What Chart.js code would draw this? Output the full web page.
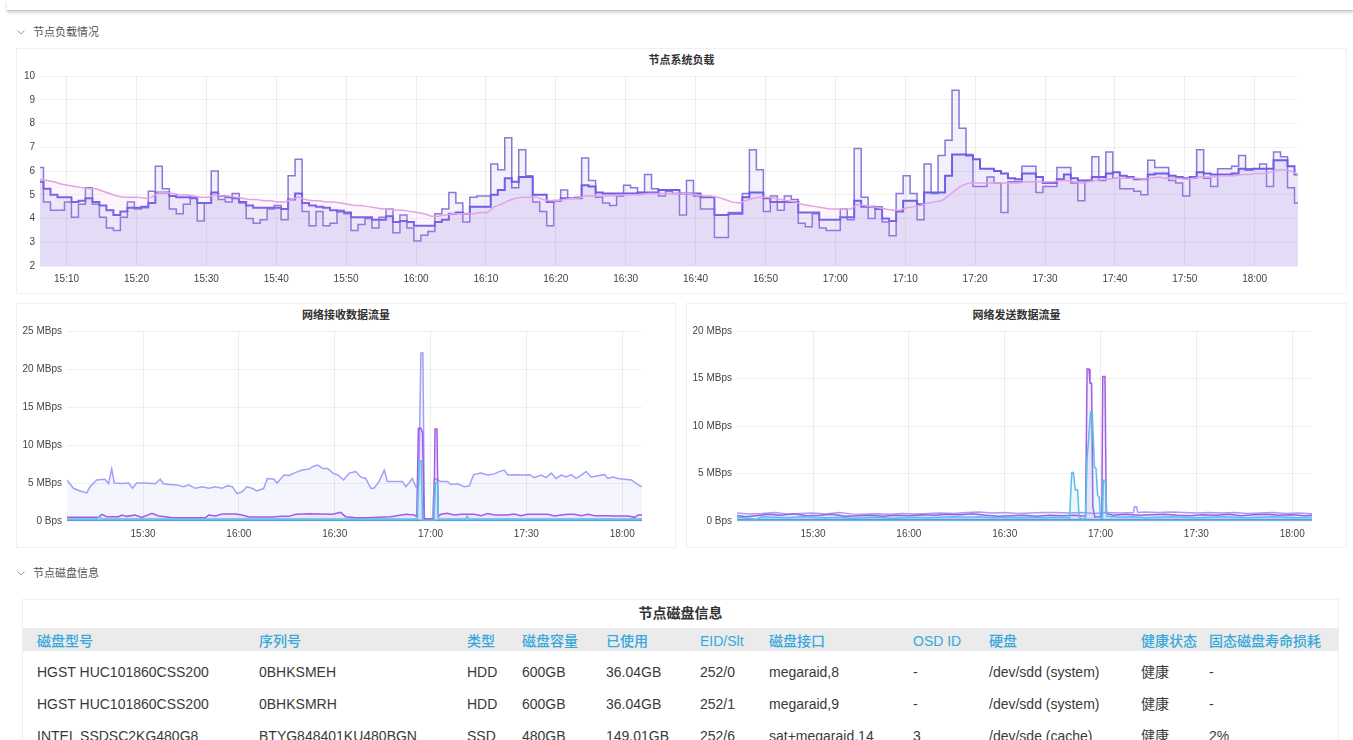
<!DOCTYPE html>
<html>
<head>
<meta charset="utf-8">
<script src="https://cdn.jsdelivr.net/npm/chart.js@4.4.1/dist/chart.umd.min.js"></script>
<style>
html,body{margin:0;padding:0;background:#fff;width:1353px;height:740px;overflow:hidden;
  font-family:"Liberation Sans",Arial,"Noto Sans CJK SC",sans-serif;}
.topbar{position:absolute;left:7px;right:0;top:0;height:10px;background:#fff;
  border-bottom:1px solid #c6c6cf;box-shadow:0 2px 3px rgba(0,0,0,0.16);}
.sec{position:absolute;left:17px;font-size:11px;color:#555;line-height:14px;}
.sec svg{position:absolute;left:0;top:5px;}
.sec span{position:absolute;left:16px;top:0;white-space:nowrap;}
.panel{position:absolute;border:1px solid #eef0f3;box-sizing:border-box;background:#fff;}
.ptitle{position:absolute;text-align:center;font-size:11px;font-weight:bold;color:#333;line-height:14px;white-space:nowrap;}
.cv{position:absolute;}
.cell{position:absolute;font-size:14px;line-height:18px;white-space:nowrap;color:#3a3a3a;}
.hcell{color:#35a8dc;font-weight:500;}
</style>
</head>
<body>
<div class="topbar"></div>

<div class="sec" style="top:25px;"><svg width="8" height="5"><polyline points="0.5,0.5 4,4 7.5,0.5" fill="none" stroke="#999" stroke-width="1"/></svg><span>节点负载情况</span></div>

<div class="panel" style="left:16px;top:48px;width:1331px;height:246px;"></div>
<div class="ptitle" style="left:16px;width:1331px;top:53px;">节点系统负载</div>
<canvas id="loadChart" class="cv" width="1330" height="245" style="left:16px;top:48px;"></canvas>

<div class="panel" style="left:16px;top:303px;width:660px;height:245px;"></div>
<div class="ptitle" style="left:16px;width:660px;top:308px;">网络接收数据流量</div>
<canvas id="rxChart" class="cv" width="659" height="244" style="left:16px;top:303px;"></canvas>

<div class="panel" style="left:686px;top:303px;width:661px;height:245px;"></div>
<div class="ptitle" style="left:686px;width:661px;top:308px;">网络发送数据流量</div>
<canvas id="txChart" class="cv" width="660" height="244" style="left:686px;top:303px;"></canvas>

<div class="sec" style="top:566px;"><svg width="8" height="5"><polyline points="0.5,0.5 4,4 7.5,0.5" fill="none" stroke="#999" stroke-width="1"/></svg><span>节点磁盘信息</span></div>

<div class="panel" style="left:22px;top:599px;width:1317px;height:160px;"></div>
<div class="ptitle" style="left:22px;width:1317px;top:604px;font-size:14px;line-height:18px;">节点磁盘信息</div>
<div style="position:absolute;left:23px;top:628px;width:1315px;height:23px;background:#ebebeb;"></div>
<div id="table"></div>

<script>
// ---------------- data ----------------
// 节点系统负载: one sample per minute, starting 15:06:12
const loadStartMin = 6.2;   // minutes after 15:00
const loadStepMin = 1;
const load1 = [
 6.15,4.7,4.35,4.35,4.7,4.05,4.6,5.3,4.6,4.05,
 3.6,3.5,4.05,4.7,4.4,4.45,5.15,6.2,5.25,4.4,
 4.2,4.6,4.9,3.9,4.65,6.0,4.8,4.7,5.05,4.65,
 4.0,3.8,3.95,4.4,4.55,3.95,5.8,6.5,4.3,3.7,
 4.3,3.7,3.8,4.35,4.2,3.5,3.75,4.0,3.6,4.05,
 4.4,3.4,4.15,3.6,3.05,3.3,3.45,4.2,4.4,5.1,
 4.65,3.85,4.9,4.95,4.95,6.3,6.05,7.4,5.3,6.9,
 5.8,4.7,4.3,3.7,4.75,5.2,4.85,4.9,6.55,5.6,
 4.9,4.65,4.55,4.95,5.4,5.3,5.1,5.85,5.25,4.95,
 5.15,5.05,4.15,5.6,4.95,4.4,4.4,3.2,3.2,4.25,
 4.25,5.05,6.9,6.05,4.3,4.95,4.35,4.95,4.8,3.8,
 3.65,4.2,3.6,3.5,3.5,4.4,3.95,6.95,4.9,4.0,
 4.5,3.85,3.27,5.05,5.8,5.05,3.95,6.3,5.05,6.65,
 7.3,9.4,7.8,6.7,5.35,5.35,5.75,5.5,4.25,5.55,
 5.55,6.2,6.2,5.1,5.35,5.35,6.15,6.15,5.5,4.75,
 5.6,6.6,5.6,6.8,5.7,5.25,5.25,5.15,5.0,6.45,
 6.15,6.15,5.6,5.5,4.95,5.7,6.9,5.7,5.35,6.1,
 6.1,6.2,6.65,6.1,6.1,6.3,5.35,6.8,6.6,5.3,4.65];
const load5 = [
 5.55,5.25,5.0,4.9,4.9,4.7,4.75,4.85,4.7,4.55,
 4.35,4.15,4.3,4.45,4.45,4.5,4.65,5.1,5.1,4.95,
 4.9,4.9,4.85,4.65,4.65,5.1,4.95,4.9,4.85,4.7,
 4.55,4.45,4.45,4.45,4.45,4.4,4.8,5.05,4.65,4.55,
 4.5,4.45,4.35,4.3,4.25,4.05,4.05,4.05,3.95,3.95,
 4.1,3.85,3.9,3.85,3.7,3.7,3.7,3.85,3.95,4.2,
 4.25,4.2,4.5,4.5,4.5,5.0,5.2,5.7,5.55,5.75,
 5.75,5.0,5.0,4.7,4.75,4.85,4.85,4.85,5.4,5.35,
 5.1,5.05,5.05,5.05,5.05,5.05,5.1,5.1,5.1,5.2,
 5.2,5.2,5.05,5.05,5.05,4.9,4.9,4.15,4.15,4.2,
 4.2,4.9,5.1,5.1,4.85,4.7,4.7,4.7,4.7,4.25,
 4.25,4.25,3.95,3.95,3.95,4.05,4.05,4.75,4.5,4.5,
 4.4,4.0,3.9,4.3,4.75,4.75,4.6,5.1,5.1,5.1,
 5.8,6.7,6.7,6.65,6.5,6.1,6.1,6.0,5.9,5.7,
 5.65,5.9,5.9,5.75,5.5,5.5,5.65,5.85,5.7,5.6,
 5.6,5.75,5.75,5.9,5.95,5.8,5.75,5.65,5.65,5.85,
 5.9,5.9,5.8,5.75,5.7,5.75,5.95,5.9,5.85,5.85,
 5.85,5.9,6.1,6.05,6.1,6.1,6.1,6.45,6.45,6.2,5.85];
const load15 = [
 5.65,5.6,5.55,5.45,5.4,5.35,5.3,5.25,5.25,5.15,
 5.05,4.95,4.9,4.9,4.9,4.85,4.9,5.1,5.1,5.05,
 5.0,5.0,4.95,4.9,4.9,5.0,4.95,4.95,4.9,4.85,
 4.8,4.8,4.75,4.75,4.7,4.7,4.8,4.9,4.8,4.75,
 4.75,4.7,4.7,4.65,4.6,4.55,4.55,4.5,4.45,4.4,
 4.4,4.35,4.35,4.3,4.25,4.2,4.1,4.1,4.15,4.2,
 4.2,4.2,4.2,4.25,4.25,4.5,4.6,4.75,4.85,4.9,
 4.9,4.9,4.8,4.75,4.75,4.8,4.85,4.85,4.95,4.95,
 4.95,4.95,4.95,5.0,5.0,5.0,5.0,5.05,5.05,5.05,
 5.05,5.05,5.05,5.05,5.0,4.95,4.95,4.9,4.8,4.7,
 4.65,4.75,4.85,4.9,4.9,4.85,4.8,4.75,4.7,4.6,
 4.55,4.5,4.45,4.4,4.4,4.4,4.4,4.6,4.55,4.5,
 4.45,4.4,4.35,4.35,4.45,4.5,4.55,4.65,4.7,4.75,
 4.95,5.2,5.4,5.5,5.5,5.5,5.5,5.5,5.5,5.5,
 5.5,5.55,5.55,5.55,5.55,5.55,5.6,5.6,5.55,5.5,
 5.55,5.6,5.65,5.65,5.7,5.7,5.7,5.7,5.65,5.7,
 5.75,5.7,5.7,5.7,5.65,5.7,5.75,5.75,5.75,5.8,
 5.8,5.8,5.85,5.85,5.9,5.9,5.95,6.05,6.05,6.0,5.85];
const loadTicks = [10,20,30,40,50,60,70,80,90,100,110,120,130,140,150,160,170,180]; // minutes after 15:00

// 网络接收数据流量 (MBps), times in minutes after 15:00
const rxATimes = [6.2,8.2,10.3,12.4,13.4,15.5,18.1,19.2,20.2,21.0,23.4,25.5,26.7,28.0,30.6,33.8,35.4,36.4,38.5,40.6,42.7,44.3,46.4,48.5,50.6,52.7,54.8,56.4,58.0,59.4,61.0,62.5,64.1,65.7,67.8,68.9,71.0,72.0,74.1,75.7,77.8,79.9,82.0,83.1,84.7,86.3,87.8,89.4,91.0,92.8,94.5,96.6,98.1,99.7,101.3,102.3,103.9,105.5,106.5,108.6,111.2,112.3,114.3,115.4,116.3,117.0,117.6,118.1,120.6,121.2,122.2,123.2,125.3,126.4,128.5,130.5,132.1,133.5,135.8,137.9,140.0,141.5,143.1,144.2,146.2,148.3,151.0,152.5,154.6,156.2,157.8,159.3,160.9,162.5,164.0,165.6,167.2,168.7,170.3,172.4,174.5,175.5,177.1,178.7,180.8,182.9,185.0,186.2];
const rxAValues = [5.4,4.3,3.95,3.7,4.5,5.4,5.5,4.9,6.85,5.0,4.95,5.0,4.3,5.0,5.0,4.9,5.5,4.9,4.8,4.75,4.5,4.75,4.3,4.5,4.3,4.5,4.3,4.65,4.5,3.6,3.85,4.5,4.3,3.95,4.3,5.6,5.5,5.0,6.05,6.0,6.4,6.7,6.85,7.15,7.35,6.9,6.9,6.3,6.05,5.4,6.3,6.5,5.8,5.6,4.3,4.3,5.2,6.7,5.2,5.2,5.2,4.5,5.6,4.5,4.6,22.1,22.1,0.2,0.2,5.6,5.4,5.2,5.2,4.8,4.9,4.5,4.6,6.1,6.3,6.05,6.2,6.5,6.7,6.05,6.1,6.05,6.1,5.7,6.05,5.7,6.3,5.6,6.05,5.8,6.1,5.6,6.05,6.5,5.8,5.95,6.1,5.6,5.8,5.6,5.5,5.4,4.75,4.5];
const rxBTimes = [6.2,16.0,17.1,18.6,22.3,23.4,24.9,27.5,29.6,32.8,34.9,37.0,39.1,49.5,50.6,52.7,54.7,58.9,61.0,63.1,70.4,73.6,75.7,77.8,81.9,86.1,89.3,91.9,93.4,96.6,100.0,107.5,112.3,114.9,115.7,116.2,117.0,117.5,118.0,121.1,121.4,122.0,122.4,123.2,125.3,127.4,129.5,133.7,135.8,137.9,140.0,144.0,146.2,148.3,150.4,156.7,158.8,160.9,163.0,165.0,167.2,169.3,171.4,175.5,177.6,181.8,183.9,185.0,186.2];
const rxBValues = [0.48,0.48,0.88,0.57,0.57,0.79,0.61,0.79,0.48,1.01,0.66,0.57,0.44,0.44,0.79,0.66,0.92,0.92,0.79,0.53,0.53,0.61,0.61,0.88,0.97,0.92,0.88,1.14,0.57,0.44,0.44,0.57,0.88,0.79,0.6,12.2,12.2,11.6,0.3,0.3,12.1,12.1,0.6,0.88,1.01,0.79,0.88,0.88,0.7,0.97,0.79,0.79,0.92,0.7,0.88,0.88,0.66,0.79,0.88,0.88,0.7,0.88,0.7,0.7,0.66,0.66,0.48,0.79,0.79];
const rxCTimes = [6.2,15.5,16.3,17.0,60.0,115.9,116.4,117.1,117.5,121.1,121.5,122.2,122.5,131.0,131.5,132.0,186.2];
const rxCValues = [0.25,0.25,0.6,0.25,0.25,0.25,7.9,7.9,0.05,0.05,5.0,5.0,0.25,0.25,0.6,0.25,0.25];
const rxDTimes = [6.2,186.2];
const rxDValues = [0.08,0.08];
const rxTicks = [0,5,10,15,20,25];

// 网络发送数据流量 (MBps)
const txATimes = [6,10,14,18,22,26,30,34,38,42,46,50,54,58,62,66,70,74,78,82,86,90,94,98,102,106,110,114,118,122,126,130.3,130.6,131.3,131.6,134,138,142,146,150,154,158,162,166,170,174,178,182,186.2];
const txAValues = [0.85,0.75,0.8,0.9,0.75,0.8,0.85,0.75,0.9,0.75,0.7,0.75,0.7,0.8,0.75,0.8,0.85,0.8,0.9,0.95,0.85,0.9,0.8,0.85,0.9,0.9,0.85,0.9,0.8,0.9,0.85,0.9,1.5,1.5,0.9,0.95,0.9,0.95,0.9,0.85,0.9,0.85,0.9,0.8,0.85,0.9,0.8,0.85,0.75];
const txBTimes = [6,9,12,16,20,24,28,32,36,40,44,48,52,56,60,64,68,72,76,80,84,88,92,96,100,104,108,112,115.3,115.8,116.4,116.7,117.2,117.6,118.2,120.4,120.7,121.4,121.8,124,128,132,136,140,144,148,152,156,160,164,168,172,176,180,184,186.2];
const txBValues = [0.6,0.45,0.55,0.7,0.6,0.75,0.55,0.6,0.7,0.5,0.55,0.6,0.5,0.6,0.55,0.65,0.6,0.7,0.65,0.75,0.6,0.5,0.55,0.6,0.5,0.6,0.55,0.6,0.5,16.0,16.0,14.5,14.5,1.5,0.4,0.5,15.2,15.2,0.8,0.6,0.7,0.6,0.65,0.7,0.6,0.55,0.65,0.6,0.7,0.55,0.65,0.7,0.6,0.65,0.55,0.6];
const txCTimes = [6,10,12,14,18,22,26,30,34,38,42,46,50,54,58,62,66,70,74,78,82,86,90,94,98,102,106,110.3,111.0,111.5,112.1,112.8,113.3,114.3,115.3,115.8,116.9,117.4,118.1,118.6,119.1,119.6,120.0,120.6,120.9,121.5,122.0,126,130,134,138,142,146,150,154,158,162,166,170,174,178,182,186.2];
const txCValues = [0.4,0.3,0.15,0.45,0.4,0.35,0.45,0.4,0.35,0.4,0.3,0.35,0.4,0.3,0.35,0.4,0.35,0.4,0.45,0.4,0.45,0.35,0.4,0.35,0.4,0.35,0.4,0.35,5.1,5.1,3.3,3.3,0.4,0.2,0.3,6.6,11.5,11.5,5.7,5.5,2.7,2.5,0.3,0.3,4.3,4.3,0.5,0.4,0.45,0.35,0.4,0.45,0.4,0.35,0.4,0.45,0.4,0.35,0.4,0.45,0.4,0.35,0.4];
const txDTimes = [6,186.2];
const txDValues = [0.12,0.12];
const txTicks = [0,5,10,15,20];
const netTimeTicks = [30,60,90,120,150,180];

// 节点磁盘信息
const diskHeaders = ['磁盘型号','序列号','类型','磁盘容量','已使用','EID/Slt','磁盘接口','OSD ID','硬盘','健康状态','固态磁盘寿命损耗'];
const diskRows = [
  ['HGST HUC101860CSS200','0BHKSMEH','HDD','600GB','36.04GB','252/0','megaraid,8','-','/dev/sdd (system)','健康','-'],
  ['HGST HUC101860CSS200','0BHKSMRH','HDD','600GB','36.04GB','252/1','megaraid,9','-','/dev/sdd (system)','健康','-'],
  ['INTEL SSDSC2KG480G8','BTYG848401KU480BGN','SSD','480GB','149.01GB','252/6','sat+megaraid,14','3','/dev/sde (cache)','健康','2%']
];

// ---------------- rendering ----------------
const colLeft = [37,259,467,522,606,700,769,913,989,1141,1209];
const rowTop = [632,663,695,727];
const tbl = document.getElementById('table');
function addCell(text, x, y, cls){
  const d = document.createElement('div');
  d.className = 'cell ' + (cls||'');
  d.style.left = x + 'px'; d.style.top = y + 'px';
  d.textContent = text; tbl.appendChild(d);
}
diskHeaders.forEach((h,i)=>addCell(h, colLeft[i], rowTop[0], 'hcell'));
diskRows.forEach((r,ri)=>r.forEach((c,i)=>addCell(c, colLeft[i], rowTop[ri+1])));

Chart.defaults.font.family = '"Liberation Sans", Arial, "Noto Sans CJK SC", sans-serif';
Chart.defaults.font.size = 10;
Chart.defaults.color = '#555';

function fmtClock(v){
  const t = Math.round(v);
  const h = 15 + Math.floor(t/60), m = t % 60;
  return h + ':' + String(m).padStart(2,'0');
}
function pts(times, values){ return values.map((v,i)=>({x:times[i], y:v})); }
function fmtRate(v){ return v === 0 ? '0 Bps' : v + ' MBps'; }

function makeOptions(cfg){
  return {
    responsive:false, animation:false, devicePixelRatio:1,
    layout:{padding:{left:0,right:cfg.padRight,top:28,bottom:0}},
    plugins:{legend:{display:false},tooltip:{enabled:false},title:{display:false}},
    elements:{point:{radius:0}},
    scales:{
      x:{type:'linear', min:6.2, max:186.2,
        afterBuildTicks:s=>{ s.ticks = cfg.xTicks.map(v=>({value:v})); },
        afterFit:s=>{ s.height = cfg.xHeight; },
        ticks:{callback:fmtClock, padding:7, maxRotation:0, autoSkip:false, color:'#444', font:{size:10}},
        grid:{color:'rgba(0,0,0,0.07)', drawTicks:false}, border:{display:false}},
      y:{min:cfg.yMin, max:cfg.yMax,
        afterBuildTicks:s=>{ s.ticks = cfg.yTicks.map(v=>({value:v})); },
        afterFit:s=>{ s.width = cfg.yWidth; },
        ticks:{callback:cfg.yFmt, padding:5, color:'#444', font:{size:10}},
        grid:{color:'rgba(0,0,0,0.06)', drawTicks:false}, border:{display:false}}
    }
  };
}
function ds(data, color, width, alpha, extra){
  return Object.assign({data, borderColor:'rgb('+color+')', backgroundColor:'rgba('+color+','+alpha+')',
    borderWidth:width, fill:'origin', pointRadius:0, tension:0}, extra||{});
}

// load chart
const loadTimes = load1.map((_,i)=>loadStartMin + i*loadStepMin);
new Chart(document.getElementById('loadChart'), {
  type:'line',
  data:{datasets:[
    ds(pts(loadTimes,load15),'226,162,228',1.5,0.1),
    ds(pts(loadTimes,load5),'112,92,232',2,0.1,{stepped:'middle'}),
    ds(pts(loadTimes,load1),'138,120,214',1.5,0.1,{stepped:'middle'})
  ]},
  options:makeOptions({padRight:48, xTicks:loadTicks, xHeight:27, yMin:2, yMax:10,
    yTicks:[2,3,4,5,6,7,8,9,10], yWidth:24, yFmt:v=>String(v)})
});

// rx chart
new Chart(document.getElementById('rxChart'), {
  type:'line',
  data:{datasets:[
    ds(pts(rxCTimes,rxCValues),'88,192,232',1.5,0.12),
    ds(pts(rxBTimes,rxBValues),'163,92,230',1.5,0.1),
    ds(pts(rxATimes,rxAValues),'160,160,248',1.5,0.1),
    ds(pts(rxDTimes,rxDValues),'70,160,235',2,0.1)
  ]},
  options:makeOptions({padRight:33, xTicks:netTimeTicks, xHeight:26, yMin:0, yMax:25,
    yTicks:rxTicks, yWidth:51, yFmt:fmtRate})
});

// tx chart
new Chart(document.getElementById('txChart'), {
  type:'line',
  data:{datasets:[
    ds(pts(txCTimes,txCValues),'88,192,232',1.5,0.12),
    ds(pts(txBTimes,txBValues),'163,92,230',1.5,0.1),
    ds(pts(txATimes,txAValues),'165,160,245',1.5,0.1),
    ds(pts(txDTimes,txDValues),'70,160,235',2,0.1)
  ]},
  options:makeOptions({padRight:34, xTicks:netTimeTicks, xHeight:26, yMin:0, yMax:20,
    yTicks:txTicks, yWidth:51, yFmt:fmtRate})
});
</script>
</body>
</html>
